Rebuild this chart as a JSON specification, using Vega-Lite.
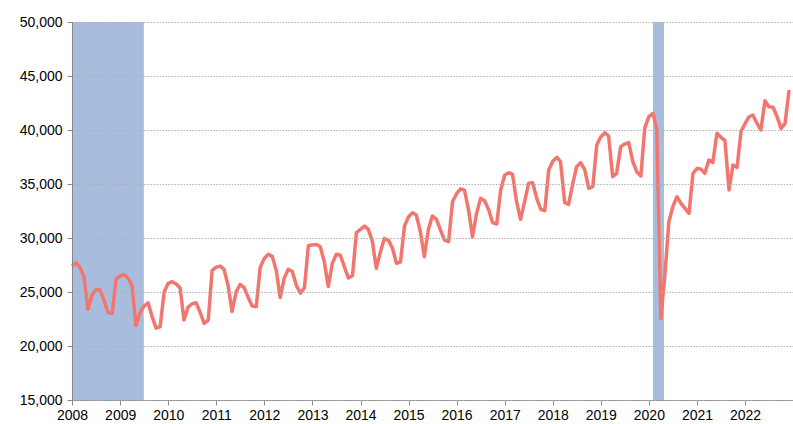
{
  "$schema": "https://vega.github.io/schema/vega-lite/v6.json",
  "width": 721,
  "height": 378,
  "autosize": {"type": "none"},
  "padding": {"left": 72, "top": 22, "right": 0, "bottom": 24},
  "background": "white",
  "config": {"view": {"stroke": null}, "font": "Liberation Sans"},
  "datasets": {
    "rec": [
      {"start": "2008-01-01", "end": "2009-06-30"},
      {"start": "2020-02-01", "end": "2020-04-25"}
    ],
    "main": [
      {"d": "2008-01-01", "v": 27400}, {"d": "2008-02-01", "v": 27700}, {"d": "2008-03-01", "v": 27300}, {"d": "2008-04-01", "v": 26400}, {"d": "2008-05-01", "v": 23400}, {"d": "2008-06-01", "v": 24700}, {"d": "2008-07-01", "v": 25200}, {"d": "2008-08-01", "v": 25200}, {"d": "2008-09-01", "v": 24200}, {"d": "2008-10-01", "v": 23100}, {"d": "2008-11-01", "v": 23000}, {"d": "2008-12-01", "v": 26200},
      {"d": "2009-01-01", "v": 26500}, {"d": "2009-02-01", "v": 26600}, {"d": "2009-03-01", "v": 26300}, {"d": "2009-04-01", "v": 25600}, {"d": "2009-05-01", "v": 21900}, {"d": "2009-06-01", "v": 23100}, {"d": "2009-07-01", "v": 23700}, {"d": "2009-08-01", "v": 24000}, {"d": "2009-09-01", "v": 22700}, {"d": "2009-10-01", "v": 21650}, {"d": "2009-11-01", "v": 21800}, {"d": "2009-12-01", "v": 25000},
      {"d": "2010-01-01", "v": 25800}, {"d": "2010-02-01", "v": 25950}, {"d": "2010-03-01", "v": 25750}, {"d": "2010-04-01", "v": 25400}, {"d": "2010-05-01", "v": 22400}, {"d": "2010-06-01", "v": 23600}, {"d": "2010-07-01", "v": 23900}, {"d": "2010-08-01", "v": 24000}, {"d": "2010-09-01", "v": 23100}, {"d": "2010-10-01", "v": 22100}, {"d": "2010-11-01", "v": 22400}, {"d": "2010-12-01", "v": 27000},
      {"d": "2011-01-01", "v": 27300}, {"d": "2011-02-01", "v": 27400}, {"d": "2011-03-01", "v": 27100}, {"d": "2011-04-01", "v": 25600}, {"d": "2011-05-01", "v": 23200}, {"d": "2011-06-01", "v": 25000}, {"d": "2011-07-01", "v": 25700}, {"d": "2011-08-01", "v": 25400}, {"d": "2011-09-01", "v": 24500}, {"d": "2011-10-01", "v": 23700}, {"d": "2011-11-01", "v": 23650}, {"d": "2011-12-01", "v": 27300},
      {"d": "2012-01-01", "v": 28100}, {"d": "2012-02-01", "v": 28500}, {"d": "2012-03-01", "v": 28300}, {"d": "2012-04-01", "v": 27000}, {"d": "2012-05-01", "v": 24500}, {"d": "2012-06-01", "v": 26300}, {"d": "2012-07-01", "v": 27100}, {"d": "2012-08-01", "v": 26900}, {"d": "2012-09-01", "v": 25600}, {"d": "2012-10-01", "v": 24900}, {"d": "2012-11-01", "v": 25400}, {"d": "2012-12-01", "v": 29300},
      {"d": "2013-01-01", "v": 29350}, {"d": "2013-02-01", "v": 29400}, {"d": "2013-03-01", "v": 29200}, {"d": "2013-04-01", "v": 27800}, {"d": "2013-05-01", "v": 25500}, {"d": "2013-06-01", "v": 27650}, {"d": "2013-07-01", "v": 28500}, {"d": "2013-08-01", "v": 28400}, {"d": "2013-09-01", "v": 27300}, {"d": "2013-10-01", "v": 26300}, {"d": "2013-11-01", "v": 26500}, {"d": "2013-12-01", "v": 30500},
      {"d": "2014-01-01", "v": 30800}, {"d": "2014-02-01", "v": 31100}, {"d": "2014-03-01", "v": 30800}, {"d": "2014-04-01", "v": 29700}, {"d": "2014-05-01", "v": 27200}, {"d": "2014-06-01", "v": 28700}, {"d": "2014-07-01", "v": 29950}, {"d": "2014-08-01", "v": 29800}, {"d": "2014-09-01", "v": 29050}, {"d": "2014-10-01", "v": 27660}, {"d": "2014-11-01", "v": 27800}, {"d": "2014-12-01", "v": 31100},
      {"d": "2015-01-01", "v": 31970}, {"d": "2015-02-01", "v": 32340}, {"d": "2015-03-01", "v": 32130}, {"d": "2015-04-01", "v": 30580}, {"d": "2015-05-01", "v": 28270}, {"d": "2015-06-01", "v": 30800}, {"d": "2015-07-01", "v": 32040}, {"d": "2015-08-01", "v": 31730}, {"d": "2015-09-01", "v": 30740}, {"d": "2015-10-01", "v": 29810}, {"d": "2015-11-01", "v": 29660}, {"d": "2015-12-01", "v": 33360},
      {"d": "2016-01-01", "v": 34100}, {"d": "2016-02-01", "v": 34550}, {"d": "2016-03-01", "v": 34440}, {"d": "2016-04-01", "v": 32590}, {"d": "2016-05-01", "v": 30120}, {"d": "2016-06-01", "v": 32280}, {"d": "2016-07-01", "v": 33670}, {"d": "2016-08-01", "v": 33450}, {"d": "2016-09-01", "v": 32590}, {"d": "2016-10-01", "v": 31420}, {"d": "2016-11-01", "v": 31300}, {"d": "2016-12-01", "v": 34440},
      {"d": "2017-01-01", "v": 35830}, {"d": "2017-02-01", "v": 36050}, {"d": "2017-03-01", "v": 35900}, {"d": "2017-04-01", "v": 33360}, {"d": "2017-05-01", "v": 31730}, {"d": "2017-06-01", "v": 33360}, {"d": "2017-07-01", "v": 35060}, {"d": "2017-08-01", "v": 35120}, {"d": "2017-09-01", "v": 33670}, {"d": "2017-10-01", "v": 32660}, {"d": "2017-11-01", "v": 32530}, {"d": "2017-12-01", "v": 36300},
      {"d": "2018-01-01", "v": 37100}, {"d": "2018-02-01", "v": 37470}, {"d": "2018-03-01", "v": 37060}, {"d": "2018-04-01", "v": 33300}, {"d": "2018-05-01", "v": 33100}, {"d": "2018-06-01", "v": 35000}, {"d": "2018-07-01", "v": 36600}, {"d": "2018-08-01", "v": 36970}, {"d": "2018-09-01", "v": 36300}, {"d": "2018-10-01", "v": 34600}, {"d": "2018-11-01", "v": 34750}, {"d": "2018-12-01", "v": 38610},
      {"d": "2019-01-01", "v": 39380}, {"d": "2019-02-01", "v": 39750}, {"d": "2019-03-01", "v": 39440}, {"d": "2019-04-01", "v": 35680}, {"d": "2019-05-01", "v": 35990}, {"d": "2019-06-01", "v": 38460}, {"d": "2019-07-01", "v": 38700}, {"d": "2019-08-01", "v": 38830}, {"d": "2019-09-01", "v": 37060}, {"d": "2019-10-01", "v": 36140}, {"d": "2019-11-01", "v": 35740}, {"d": "2019-12-01", "v": 40200},
      {"d": "2020-01-01", "v": 41230}, {"d": "2020-02-01", "v": 41540}, {"d": "2020-03-01", "v": 40150}, {"d": "2020-04-01", "v": 22560}, {"d": "2020-05-01", "v": 26500}, {"d": "2020-06-01", "v": 31510}, {"d": "2020-07-01", "v": 32900}, {"d": "2020-08-01", "v": 33820}, {"d": "2020-09-01", "v": 33210}, {"d": "2020-10-01", "v": 32750}, {"d": "2020-11-01", "v": 32290}, {"d": "2020-12-01", "v": 35990},
      {"d": "2021-01-01", "v": 36450}, {"d": "2021-02-01", "v": 36360}, {"d": "2021-03-01", "v": 35990}, {"d": "2021-04-01", "v": 37220}, {"d": "2021-05-01", "v": 36980}, {"d": "2021-06-01", "v": 39690}, {"d": "2021-07-01", "v": 39320}, {"d": "2021-08-01", "v": 39010}, {"d": "2021-09-01", "v": 34440}, {"d": "2021-10-01", "v": 36760}, {"d": "2021-11-01", "v": 36540}, {"d": "2021-12-01", "v": 39840},
      {"d": "2022-01-01", "v": 40600}, {"d": "2022-02-01", "v": 41230}, {"d": "2022-03-01", "v": 41390}, {"d": "2022-04-01", "v": 40620}, {"d": "2022-05-01", "v": 40000}, {"d": "2022-06-01", "v": 42710}, {"d": "2022-07-01", "v": 42160}, {"d": "2022-08-01", "v": 42100}, {"d": "2022-09-01", "v": 41230}, {"d": "2022-10-01", "v": 40150}, {"d": "2022-11-01", "v": 40620}, {"d": "2022-12-01", "v": 43700}
    ]
  },
  "layer": [
    {
      "data": {"name": "rec"},
      "mark": {"type": "rect", "color": "#3D6DB3", "opacity": 0.45},
      "encoding": {
        "x": {"field": "start", "type": "temporal"},
        "x2": {"field": "end"}
      }
    },
    {
      "data": {"name": "main"},
      "mark": {"type": "line", "color": "#F2766E", "strokeWidth": 3.5, "strokeJoin": "round"},
      "encoding": {
        "x": {
          "field": "d", "type": "temporal",
          "scale": {"type": "utc", "domain": [{"year": 2008, "month": 1, "date": 1, "utc": true}, {"year": 2022, "month": 12, "date": 31, "utc": true}]},
          "axis": {"title": null, "format": "%Y", "tickCount": {"interval": "year", "step": 1}, "grid": false, "labelFontSize": 14, "labelColor": "#000", "domainColor": "#888", "tickColor": "#888", "tickSize": 5, "labelPadding": 3, "labelFlush": false, "labelOverlap": false}
        },
        "y": {
          "field": "v", "type": "quantitative",
          "scale": {"domain": [15000, 50000], "nice": false, "zero": false},
          "axis": {"title": null, "zindex": 1, "values": [15000, 20000, 25000, 30000, 35000, 40000, 45000, 50000], "format": ",.0f", "grid": true, "gridColor": "#B0B0B0", "gridDash": [1.5, 1.5], "labelFontSize": 14, "labelColor": "#000", "domainColor": "#888", "tickColor": "#888", "tickSize": 5, "labelPadding": 5}
        }
      }
    }
  ]
}
